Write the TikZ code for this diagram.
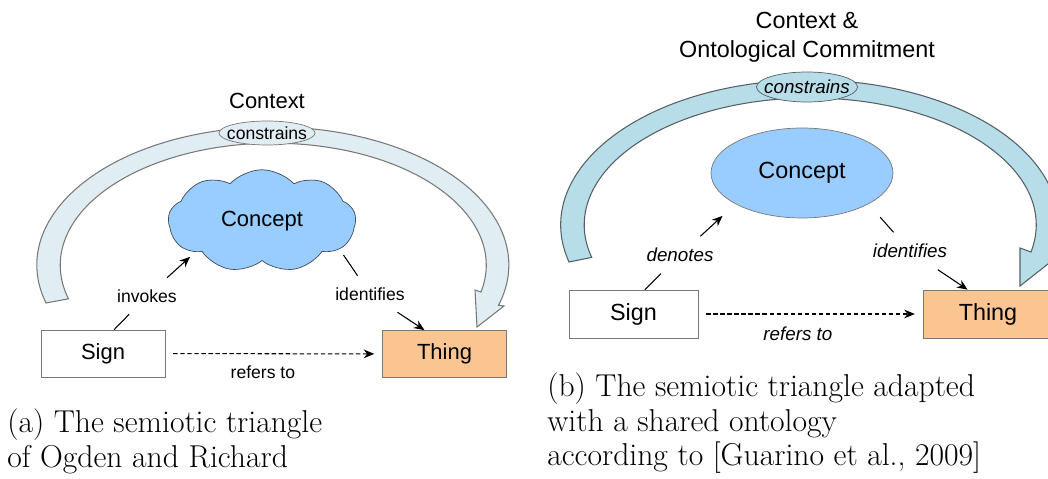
\documentclass[tikz,border=0pt]{standalone}
\usepackage{fontspec}
\newfontfamily\diagfont{Liberation Sans}
\usepackage{tikz}
\usetikzlibrary{positioning, arrows.meta, shapes.geometric, shapes.symbols}

\definecolor{conceptblue}{RGB}{153,204,255}
\definecolor{thingorange}{RGB}{250,197,145}
\definecolor{bandgrid}{RGB}{224,237,243}
\definecolor{bandteal}{RGB}{183,221,232}
\definecolor{edgegray}{RGB}{120,120,120}
\definecolor{darkedge}{RGB}{85,95,100}
\definecolor{cloudedge}{RGB}{62,74,92}

\newcommand{\bigA}{\diagfont\fontsize{12.5}{15}\selectfont}
\newcommand{\smallA}{\diagfont\fontsize{10}{12}\selectfont}
\newcommand{\bigB}{\diagfont\fontsize{13.3}{16.5}\selectfont}
\newcommand{\smallB}{\diagfont\itshape\fontsize{10.7}{13}\selectfont}
\newcommand{\capfont}{\fontsize{18}{19.9}\selectfont}

\begin{document}
\begin{tikzpicture}[
    x=0.02cm, y=-0.02cm,
    every node/.style={align=center},
    box/.style={draw=edgegray, rectangle, fill=white, minimum width=2.48cm, minimum height=0.94cm},
    thingbox/.style={box, fill=thingorange},
    lbl/.style={inner xsep=2pt, inner ysep=6.5pt},
    link/.style={line width=0.6pt},
    arrow/.style={->, >={Stealth[length=6pt, width=5pt]}, line width=0.6pt},
    dasharrow/.style={arrow, dash pattern=on 2.5pt off 1.5pt, shorten <=4.5pt, shorten >=4.5pt},
    bandA/.style={draw=edgegray, fill=bandgrid, line width=0.6pt},
    bandB/.style={draw=darkedge, fill=bandteal, line width=0.6pt},
    caption/.style={anchor=north west, align=left, inner sep=0pt, font=\capfont},
]
\useasboundingbox (0,0) rectangle (1048,479);
\clip (0,0) rectangle (1048,479);

% (a) Ogden and Richard
\node[font=\bigA] (contextA) at (267,101) {Context};
\draw[bandA] (46,303) arc[start angle=164, end angle=377, x radius=236, y radius=138]
    -- (504,306) -- (477,327) -- (475,290) -- (481,292)
    arc[start angle=372.7, end angle=164, x radius=213, y radius=122] -- cycle;
\node[ellipse, draw=edgegray, fill=bandgrid, minimum width=1.92cm, minimum height=0.48cm,
    inner xsep=-4pt, inner ysep=1pt, font=\smallA] (constrainsA) at (267,133) {constrains};
\node[cloud, cloud puffs=9, cloud puff arc=95, aspect=2, draw=cloudedge, fill=conceptblue,
    minimum width=3.75cm, minimum height=2.05cm, font=\bigA] (conceptA) at (262,221) {Concept};
\node[box, font=\bigA] (signA) at (103,353.5) {Sign};
\node[thingbox, font=\bigA] (thingA) at (444.5,354) {Thing};
% labelled links
\node[lbl, font=\smallA] (invokes) at (147,296) {invokes};
\draw[link] (signA.65) -- (invokes);
\draw[arrow, shorten >=4pt] (invokes) -- (conceptA.205);
\node[lbl, font=\smallA] (identA) at (370,294) {identifies};
\draw[link, shorten <=4pt] (conceptA.-20) -- (identA);
\draw[arrow] (identA) -- (thingA.130);
\draw[dasharrow] (signA) -- node[below=3.5pt, pos=0.45, font=\smallA] (refersA) {refers to} (thingA);

% (b) with a shared ontology
\node[font=\bigB] (contextB) at (807,37) {Context \&\\Ontological Commitment};
\draw[bandB] (569,262) arc[start angle=165.2, end angle=374.8, x radius=249, y radius=145]
    -- (1020,286) -- (1020,248) -- (1031,252)
    arc[start angle=372.3, end angle=165.2, x radius=226, y radius=127] -- cycle;
\node[ellipse, draw=darkedge, fill=bandteal, minimum width=2.02cm, minimum height=0.6cm,
    inner xsep=-4.5pt, inner ysep=1pt, font=\smallB] (constrainsB) at (807,87) {constrains};
\node[ellipse, draw=edgegray, fill=conceptblue, minimum width=3.64cm, minimum height=1.8cm,
    font=\bigB] (conceptB) at (802,173) {Concept};
\node[box, minimum width=2.58cm, minimum height=0.96cm, font=\bigB] (signB) at (633.5,314) {Sign};
\node[thingbox, minimum width=2.6cm, minimum height=0.96cm, font=\bigB] (thingB) at (988,314) {Thing};
% labelled links
\node[lbl, font=\smallB] (denotes) at (680,255) {denotes};
\draw[link] (signB.65) -- (denotes);
\draw[arrow, shorten >=10pt] (denotes) -- (conceptB.205);
\node[lbl, font=\smallB] (identB) at (910,251) {identifies};
\draw[link, shorten <=10pt] (conceptB.-25) -- (identB);
\draw[arrow] (identB) -- (thingB.130);
\draw[dasharrow] (signB) -- node[below=3.5pt, pos=0.444, font=\smallB] (refersB) {refers to} (thingB);

% captions
\node[caption] (capA) at (7,408) {(a) The semiotic triangle\\of Ogden and Richard};
\node[caption] (capB) at (547,372) {(b) The semiotic triangle adapted\\with a shared ontology\\according to [Guarino et al., 2009]};
\end{tikzpicture}
\end{document}
